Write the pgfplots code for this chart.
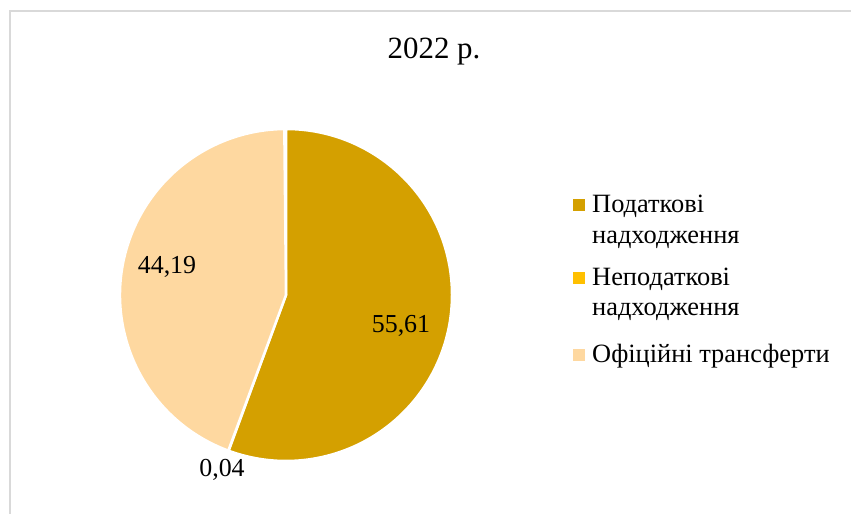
\documentclass[border=0pt]{standalone}
\usepackage{fontspec}
\setmainfont{Liberation Serif}
\usepackage{pgfplots}
\pgfplotsset{compat=1.18}
\definecolor{cA}{HTML}{D4A000}
\definecolor{cB}{HTML}{FFC000}
\definecolor{cC}{HTML}{FED8A0}
\definecolor{frame}{HTML}{D9D9D9}
% data (percent)
\def\vA{55.61}
\def\vB{0.04}
\def\vC{44.19}
\pgfmathsetmacro\sA{90}
\pgfmathsetmacro\eA{90-\vA*3.6}
\pgfmathsetmacro\eB{\eA-\vB*3.6}
\pgfmathsetmacro\eC{\eB-\vC*3.6}
\begin{document}
\begin{tikzpicture}
\begin{axis}[
  width=851bp, height=514bp, scale only axis,
  xmin=0, xmax=851, ymin=0, ymax=514,
  hide axis, clip=false,
]
\draw[frame, line width=1.5bp] (axis cs:10,0) -- (axis cs:10,503) -- (axis cs:851,503);
\fill[cA, draw=white, line width=2.5bp] (axis cs:286,219) -- ++(\sA:166) arc[start angle=\sA, end angle=\eA, radius=166] -- cycle;
\fill[cB, draw=white, line width=1bp] (axis cs:286,219) -- ++(\eA:166) arc[start angle=\eA, end angle=\eB, radius=166] -- cycle;
\fill[cC, draw=white, line width=2.5bp] (axis cs:286,219) -- ++(\eB:166) arc[start angle=\eB, end angle=\eC, radius=166] -- cycle;
\node[anchor=base, inner sep=0pt, font=\fontsize{31}{36}\selectfont] at (axis cs:434,455) {2022 р.};
\node[anchor=base, inner sep=0pt, font=\fontsize{26}{30}\selectfont] at (axis cs:401,181) {55,61};
\node[anchor=base, inner sep=0pt, font=\fontsize{26}{30}\selectfont] at (axis cs:167,240) {44,19};
\node[anchor=base, inner sep=0pt, font=\fontsize{26}{30}\selectfont] at (axis cs:222,37) {0,04};
\fill[cA] (axis cs:573,303) rectangle (axis cs:585,315);
\fill[cB] (axis cs:573,230) rectangle (axis cs:585,242);
\fill[cC] (axis cs:573,153) rectangle (axis cs:585,165);
\node[anchor=base west, font=\fontsize{26.5}{30}\selectfont, inner sep=0pt] at (axis cs:592,301) {Податкові};
\node[anchor=base west, font=\fontsize{26.5}{30}\selectfont, inner sep=0pt] at (axis cs:592,270) {надходження};
\node[anchor=base west, font=\fontsize{26.5}{30}\selectfont, inner sep=0pt] at (axis cs:592,228) {Неподаткові};
\node[anchor=base west, font=\fontsize{26.5}{30}\selectfont, inner sep=0pt] at (axis cs:592,198) {надходження};
\node[anchor=base west, font=\fontsize{26.5}{30}\selectfont, inner sep=0pt] at (axis cs:592,151) {Офіційні трансферти};
\end{axis}
\pgfresetboundingbox
\useasboundingbox (0,0) rectangle (851bp,514bp);
\end{tikzpicture}
\end{document}
